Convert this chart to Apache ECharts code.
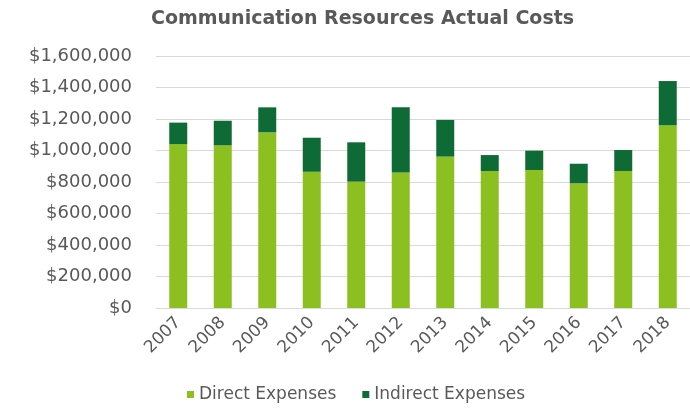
<!DOCTYPE html>
<html>
<head>
<meta charset="utf-8">
<script src="https://cdn.jsdelivr.net/npm/echarts@6/dist/echarts.min.js"></script>
<style>html,body{margin:0;padding:0;background:#fff;}#c{width:690px;height:412px;}</style>
</head>
<body>
<div id="c"></div>
<script>
var years = ['2007','2008','2009','2010','2011','2012','2013','2014','2015','2016','2017','2018'];
var directExpenses = [1041000, 1033000, 1115000, 865000, 802000, 861000, 961000, 870000, 876000, 791000, 870000, 1160000];
var indirectExpenses = [136000, 156000, 159000, 216000, 250000, 413000, 233000, 101000, 123000, 125000, 133000, 281000];
var titleText = 'Communication Resources Actual Costs';

var chart = echarts.init(document.getElementById('c'));
var font = '"DejaVu Sans", sans-serif';
chart.setOption({
  animation: false,
  textStyle: {fontFamily: font},
  title: {
    text: titleText,
    left: 146, top: 5,
    textStyle: {fontFamily: font, fontSize: 19, fontWeight: 'bold', color: '#595959'}
  },
  legend: {
    bottom: 4, left: 182,
    itemWidth: 7, itemHeight: 7, itemGap: 26,
    icon: 'rect',
    textStyle: {fontFamily: font, fontSize: 17, color: '#595959'},
    data: ['Direct Expenses', 'Indirect Expenses']
  },
  grid: {left: 156, right: -12, top: 56, bottom: 104, containLabel: false},
  xAxis: {
    type: 'category',
    data: years,
    axisLine: {show: true, lineStyle: {color: '#d9d9d9'}},
    axisTick: {show: false},
    axisLabel: {rotate: 45, fontFamily: font, fontSize: 17, color: '#595959', margin: 12, interval: 0}
  },
  yAxis: {
    type: 'value',
    min: 0, max: 1600000, interval: 200000,
    axisLine: {show: false},
    axisTick: {show: false},
    splitLine: {lineStyle: {color: '#d9d9d9'}},
    axisLabel: {
      fontFamily: font, fontSize: 18, color: '#595959', margin: 24,
      formatter: function (v) { return '$' + v.toString().replace(/\B(?=(\d{3})+(?!\d))/g, ','); }
    }
  },
  series: [
    {name: 'Direct Expenses', type: 'bar', stack: 'a', data: directExpenses, barWidth: 18, itemStyle: {color: '#8cc021'}},
    {name: 'Indirect Expenses', type: 'bar', stack: 'a', data: indirectExpenses, barWidth: 18, itemStyle: {color: '#0f6b35'}}
  ]
});
</script>
</body>
</html>
